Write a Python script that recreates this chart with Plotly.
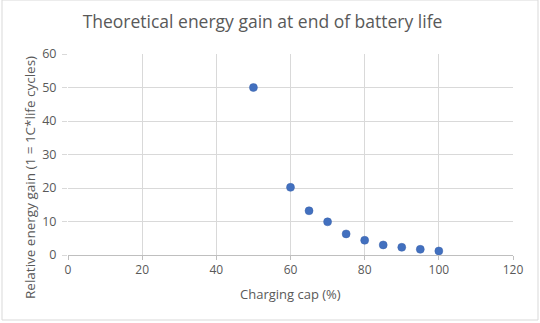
import plotly.graph_objects as go

charging_cap = [50, 60, 65, 70, 75, 80, 85, 90, 95, 100]
energy_gain = [50, 20.2, 13.2, 9.9, 6.3, 4.4, 3.0, 2.3, 1.7, 1.2]

x_ticks = [0, 20, 40, 60, 80, 100, 120]
y_ticks = [0, 10, 20, 30, 40, 50, 60]

grey = "#595959"
font = "Open Sans, Liberation Sans, sans-serif"

fig = go.Figure(go.Scatter(
    x=charging_cap, y=energy_gain, mode="markers",
    marker=dict(color="#4270BF", size=8, line=dict(color="#3a62aa", width=0.5)),
))

fig.update_layout(
    width=540, height=323,
    margin=dict(l=68, r=27, t=54, b=68),
    paper_bgcolor="white", plot_bgcolor="white",
    showlegend=False,
    title=dict(text="Theoretical energy gain at end of battery life",
               x=262.5 / 540, xanchor="center", y=1 - 22 / 323, yanchor="middle",
               font=dict(family=font, size=17.5, color=grey)),
    xaxis=dict(range=[0, 120], tickvals=x_ticks, showgrid=True, gridcolor="#d9d9d9",
               gridwidth=1, zeroline=False, showline=True, linecolor="#bfbfbf",
               ticks="outside", ticklen=4, tickcolor="#bfbfbf",
               tickfont=dict(family=font, size=12, color=grey)),
    yaxis=dict(range=[0, 60], tickvals=y_ticks, showgrid=True, gridcolor="#d9d9d9",
               gridwidth=1, zeroline=False, showline=False,
               ticks="outside", ticklen=5, tickcolor="#d9d9d9", ticklabelstandoff=3,
               tickfont=dict(family=font, size=12.5, color=grey)),
    annotations=[
        dict(text="Charging cap (%)", xref="paper", yref="paper",
             x=(290 - 68) / 445, y=-(294 - 255) / 201, xanchor="center", yanchor="middle",
             showarrow=False, font=dict(family=font, size=13, color=grey)),
        dict(text="Relative energy gain (1 = 1C*life cycles)", xref="paper", yref="paper",
             x=-(68 - 30) / 445, y=(255 - 178) / 201, xanchor="center", yanchor="middle",
             textangle=-90, showarrow=False, font=dict(family=font, size=13.5, color=grey)),
    ],
    shapes=[dict(type="rect", xref="paper", yref="paper",
                 x0=-(68 - 2) / 445, x1=1 + (538 - 513) / 445,
                 y0=-(320 - 255) / 201, y1=1 + 54 / 201,
                 line=dict(color="#d9d9d9", width=1))],
)

fig.write_html("out.html")
